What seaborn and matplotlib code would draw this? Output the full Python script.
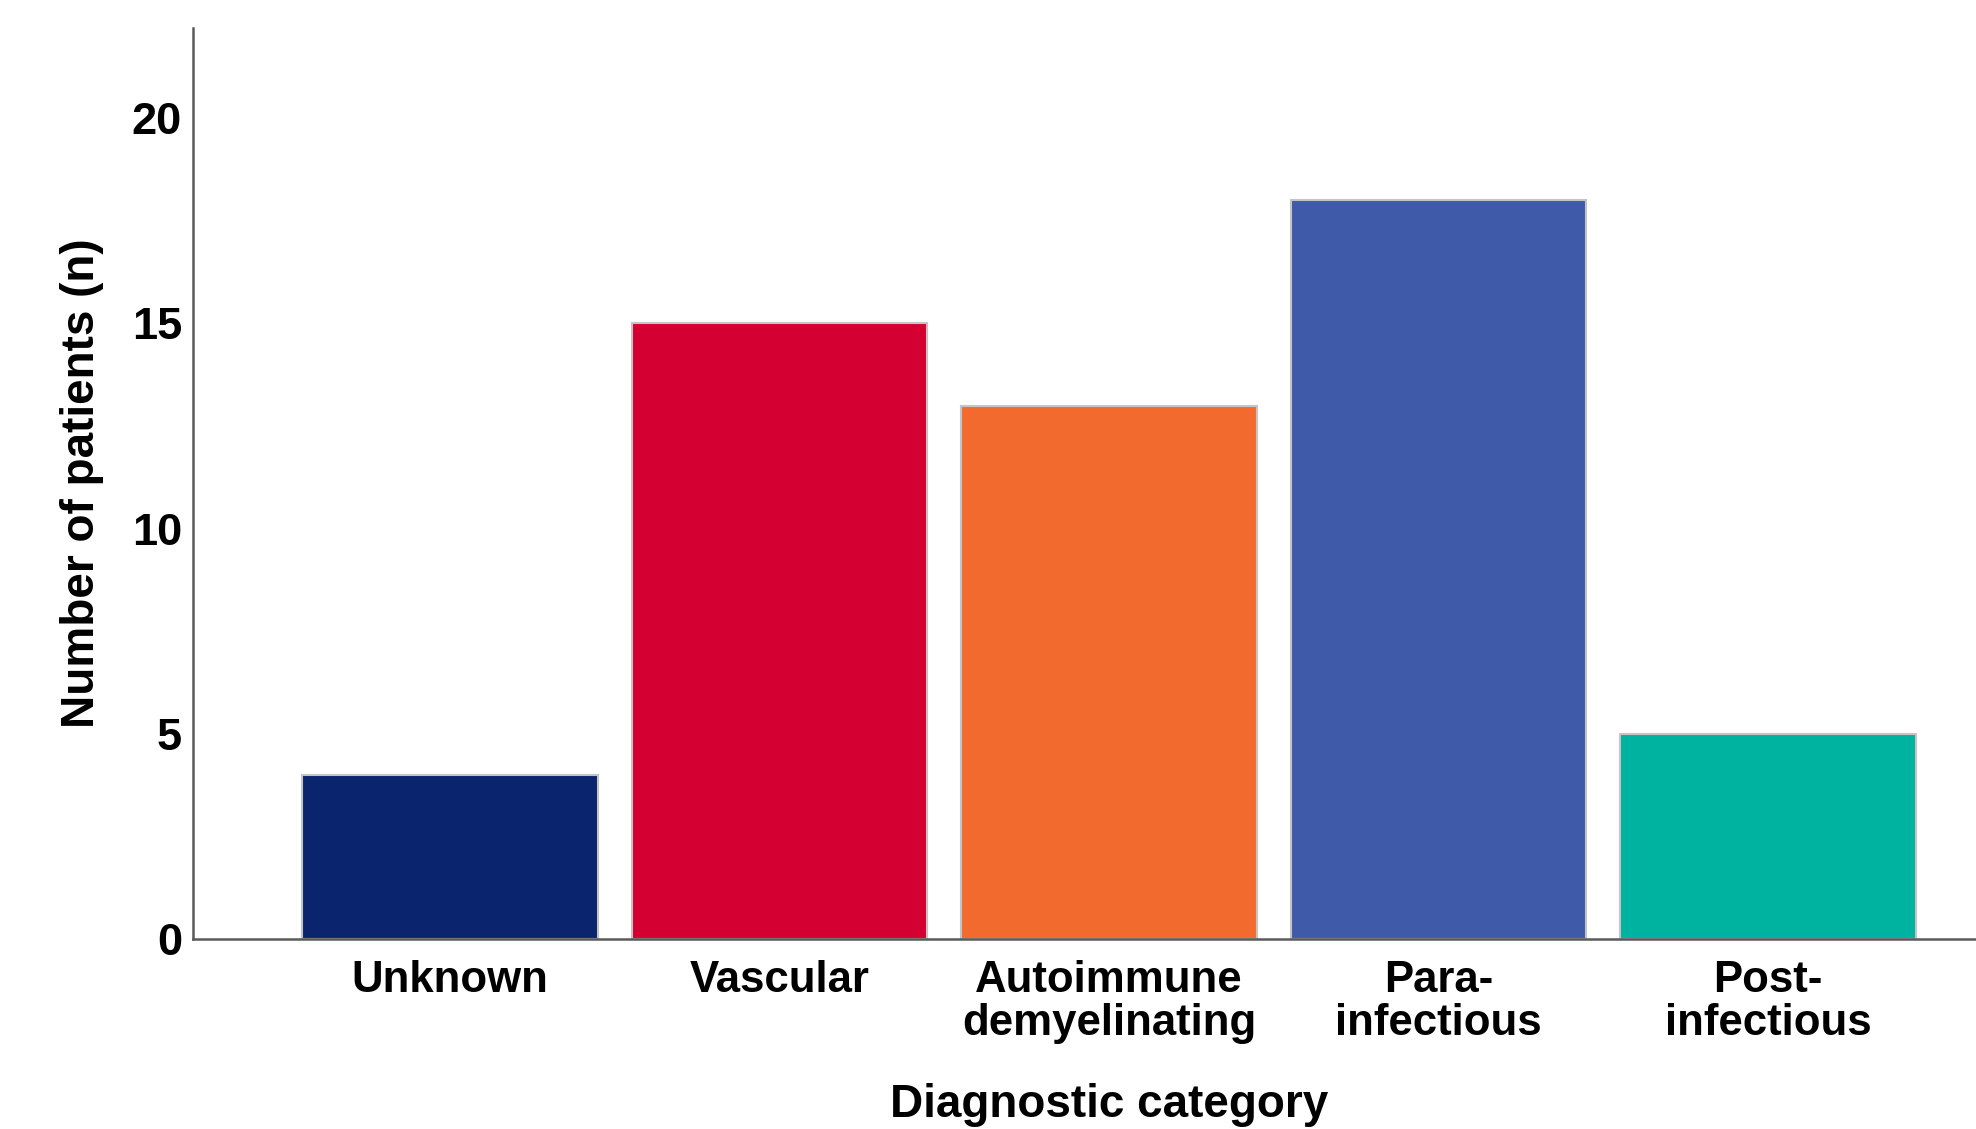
import matplotlib
matplotlib.use("Agg")
import matplotlib.pyplot as plt
import seaborn as sns
import pandas as pd

categories = ["Unknown", "Vascular", "Autoimmune\ndemyelinating", "Para-\ninfectious", "Post-\ninfectious"]
patients = [4, 15, 13, 18, 5]
colors = ["#0A256E", "#D50032", "#F26A2D", "#3F5AA8", "#00B2A0"]
yticks = [0, 5, 10, 15, 20]

sns.set_theme(style="white")
plt.rcParams["font.family"] = ["Liberation Sans", "DejaVu Sans"]
plt.rcParams["font.weight"] = "bold"
plt.rcParams["text.color"] = "black"
plt.rcParams["axes.labelcolor"] = "black"

df = pd.DataFrame({"category": categories, "n": patients})

fig = plt.figure(figsize=(19.76, 11.29), dpi=100)
ax = fig.add_axes([193 / 1976, 1 - 939 / 1129, (2025 - 193) / 1976, (939 - 28) / 1129])

sns.barplot(data=df, x="category", y="n", hue="category", palette=colors,
            order=categories, hue_order=categories, width=0.896,
            edgecolor="#c4c4c4", linewidth=1.5, legend=False, ax=ax, saturation=1)

ax.set_xlim(-0.78, 4.78)
ax.set_ylim(0, 22.2)
ax.set_yticks(yticks)
ax.set_yticklabels([str(v) for v in yticks], fontsize=32.5, fontweight="bold")
ax.set_xticks(range(len(categories)))
ax.set_xticklabels(categories, fontsize=31.5, fontweight="bold", linespacing=1.08)
ax.tick_params(axis="both", length=0, colors="black")
ax.tick_params(axis="x", pad=15)
ax.tick_params(axis="y", pad=8)

for s in ["top", "right"]:
    ax.spines[s].set_visible(False)
for s in ["left", "bottom"]:
    ax.spines[s].set_color("#5a5a5a")
    ax.spines[s].set_linewidth(1.8)

ax.set_xlabel("Diagnostic category", fontsize=33, fontweight="bold", labelpad=28, color="black")
ax.set_ylabel("Number of patients (n)", fontsize=33, fontweight="bold", labelpad=20, color="black")
ax.grid(False)

fig.savefig("out.png", dpi=100)
